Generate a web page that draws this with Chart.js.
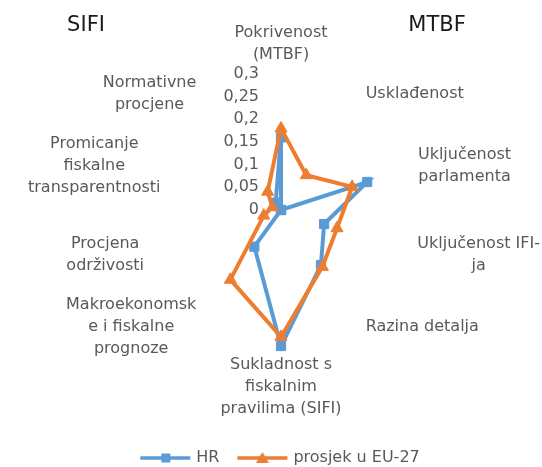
<!DOCTYPE html>
<html>
<head>
<meta charset="utf-8">
<script src="https://cdn.jsdelivr.net/npm/chart.js@4"></script>
<style>
  html, body { margin: 0; padding: 0; background: #fff; }
  #wrap { width: 542px; height: 467px; }
</style>
</head>
<body>
<div id="wrap"><canvas id="myChart" width="542" height="467"></canvas></div>
<script>
'use strict'

// axes of the radar, clockwise from the top
const axisLabels = [
  ['Pokrivenost', '(MTBF)'],
  'Usklađenost',
  ['Uključenost', 'parlamenta'],
  ['Uključenost IFI-', 'ja'],
  'Razina detalja',
  ['Sukladnost s', 'fiskalnim', 'pravilima (SIFI)'],
  ['Makroekonomsk', 'e i fiskalne', 'prognoze'],
  ['Procjena', 'održivosti'],
  ['Promicanje', 'fiskalne', 'transparentnosti'],
  ['Normativne', 'procjene']
];
const hrValues = [0.16, 0, 0.2, 0.1, 0.15, 0.3, 0.1, 0, 0, 0.02];
const euValues = [0.18, 0.095, 0.165, 0.13, 0.155, 0.28, 0.19, 0.04, 0.02, 0.05];
const tickLabels = ['0', '0,05', '0,1', '0,15', '0,2', '0,25', '0,3'];
const seriesNames = ['HR', 'prosjek u EU-27'];
const groupTitles = ['SIFI', 'MTBF'];

const blue = '#5B9BD5';
const orange = '#ED7D31';
const textGrey = '#595959';

Chart.defaults.font.family = '"DejaVu Sans", sans-serif';
Chart.defaults.font.size = 16;
Chart.defaults.color = textGrey;

// small line + marker swatches for the legend
function makeLegendIcon(color, shape) {
  const c = document.createElement('canvas');
  c.width = 54;
  c.height = 14;
  const g = c.getContext('2d');
  g.strokeStyle = color;
  g.fillStyle = color;
  g.lineWidth = 3.5;
  g.beginPath();
  g.moveTo(2, 7);
  g.lineTo(52, 7);
  g.stroke();
  g.beginPath();
  if (shape === 'rect') {
    g.rect(23, 2.5, 9, 9);
  } else {
    g.moveTo(27, 1);
    g.lineTo(33.5, 12);
    g.lineTo(20.5, 12);
    g.closePath();
  }
  g.fill();
  return c;
}
const legendIcons = [makeLegendIcon(blue, 'rect'), makeLegendIcon(orange, 'triangle')];

// keep the radar where the reference has it
const placeRadar = {
  id: 'placeRadar',
  afterLayout(chart) {
    const r = chart.scales.r;
    r.xCenter = 281;
    r.yCenter = 210;
    r.drawingArea = 136;
  }
};

// tick values left of the vertical axis, axis names, the two group titles
const axisText = {
  id: 'axisText',
  beforeDatasetsDraw(chart) {
    const ctx = chart.ctx;
    const r = chart.scales.r;
    ctx.save();
    ctx.fillStyle = textGrey;
    ctx.font = '16px "DejaVu Sans"';
    ctx.textBaseline = 'middle';

    ctx.textAlign = 'right';
    r.ticks.forEach((t, k) => {
      const y = r.yCenter - r.getDistanceFromCenterForValue(t.value);
      ctx.fillText(tickLabels[k], r.xCenter - 22, y);
    });

    ctx.textAlign = 'center';
    const n = axisLabels.length;
    const lineH = 22;
    axisLabels.forEach((lbl, i) => {
      const lines = Array.isArray(lbl) ? lbl : [lbl];
      const pos = r.getPointPosition(i, r.drawingArea + 8);
      const deg = Math.round(i * 360 / n);
      const blockW = Math.max(...lines.map(l => ctx.measureText(l).width));
      const blockH = lines.length * lineH;
      let left;
      let top;
      if (deg === 0 || deg === 180) {
        left = pos.x - blockW / 2;
      } else if (deg < 180) {
        left = pos.x;
      } else {
        left = pos.x - blockW;
      }
      if (deg === 0) {
        top = pos.y - blockH;
      } else if (deg === 180) {
        top = pos.y;
      } else {
        top = pos.y - blockH / 2;
      }
      left = Math.max(28, Math.min(left, chart.width - 2 - blockW));
      lines.forEach((l, k) => {
        ctx.fillText(l, left + blockW / 2, top + lineH * (k + 0.5));
      });
    });

    ctx.fillStyle = '#1a1a1a';
    ctx.font = '21px "DejaVu Sans"';
    ctx.fillText(groupTitles[0], 86, 26);
    ctx.fillText(groupTitles[1], 437, 26);
    ctx.restore();
  }
};

const ctx = document.getElementById('myChart').getContext('2d');

const myChart = new Chart(ctx, {
  type: 'radar',
  data: {
    labels: axisLabels,
    datasets: [
      {
        label: seriesNames[0],
        data: hrValues,
        borderColor: blue,
        backgroundColor: blue,
        borderWidth: 4,
        fill: false,
        tension: 0,
        pointStyle: 'rect',
        pointRadius: 6.5,
        pointBackgroundColor: blue,
        pointBorderColor: blue,
        pointBorderWidth: 1,
        order: 1
      },
      {
        label: seriesNames[1],
        data: euValues,
        borderColor: orange,
        backgroundColor: orange,
        borderWidth: 4,
        fill: false,
        tension: 0,
        pointStyle: 'triangle',
        pointRadius: 7,
        pointBackgroundColor: orange,
        pointBorderColor: orange,
        pointBorderWidth: 1,
        order: 0
      }
    ]
  },
  options: {
    responsive: false,
    animation: false,
    layout: {
      padding: { left: 20, bottom: -9 }
    },
    scales: {
      r: {
        min: 0,
        max: 0.3,
        beginAtZero: true,
        ticks: { stepSize: 0.05, display: false },
        grid: { display: false },
        angleLines: { display: false },
        pointLabels: { display: false }
      }
    },
    plugins: {
      legend: {
        position: 'bottom',
        labels: {
          usePointStyle: true,
          pointStyleWidth: 46,
          padding: 20,
          color: textGrey,
          font: { size: 16 },
          sort: (a, b) => a.datasetIndex - b.datasetIndex,
          generateLabels(chart) {
            const items = Chart.defaults.plugins.legend.labels.generateLabels(chart);
            items.forEach(it => { it.pointStyle = legendIcons[it.datasetIndex]; });
            return items;
          }
        }
      },
      tooltip: { enabled: false }
    }
  },
  plugins: [placeRadar, axisText]
});
</script>
</body>
</html>
